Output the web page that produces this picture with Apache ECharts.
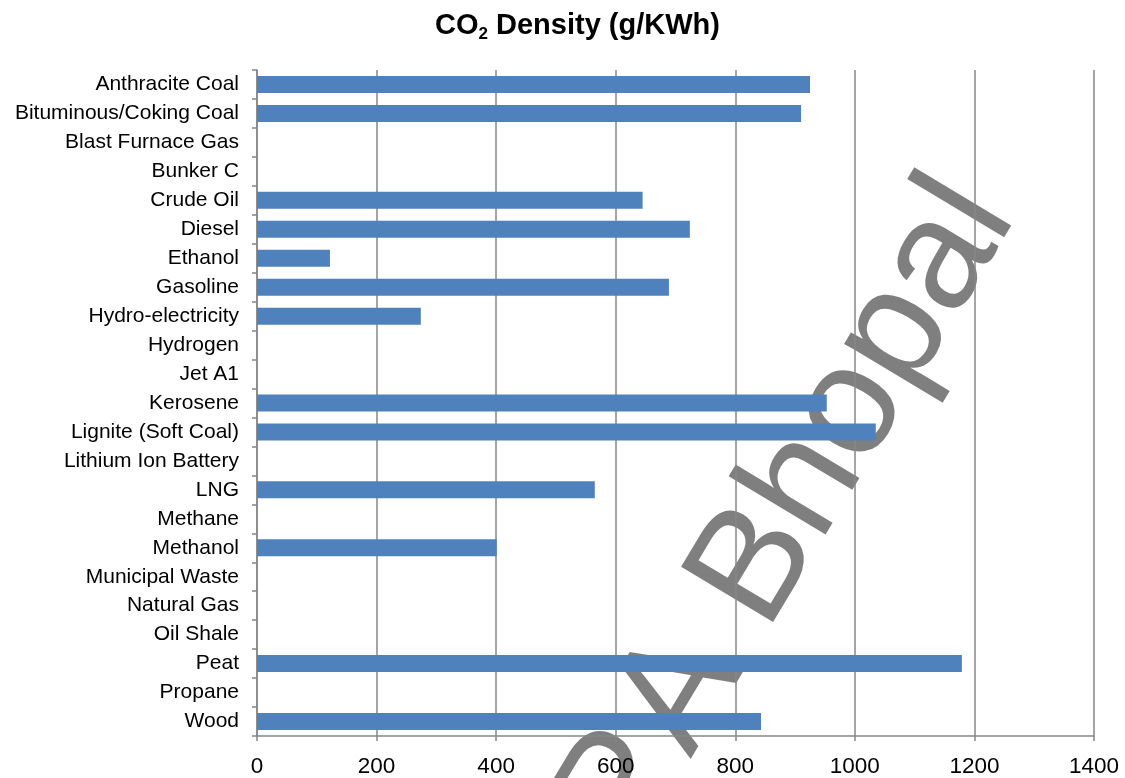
<!DOCTYPE html>
<html>
<head>
<meta charset="utf-8">
<script src="https://cdn.jsdelivr.net/npm/echarts@6/dist/echarts.min.js"></script>
<style>
  html, body { margin: 0; padding: 0; background: #fff; }
  #chart { width: 1125px; height: 778px; }
</style>
</head>
<body>
<div id="chart"></div>
<script>
// Fuel types, listed top to bottom
const fuels = [
  'Anthracite Coal', 'Bituminous/Coking Coal', 'Blast Furnace Gas', 'Bunker C',
  'Crude Oil', 'Diesel', 'Ethanol', 'Gasoline', 'Hydro-electricity', 'Hydrogen',
  'Jet A1', 'Kerosene', 'Lignite (Soft Coal)', 'Lithium Ion Battery', 'LNG',
  'Methane', 'Methanol', 'Municipal Waste', 'Natural Gas', 'Oil Shale', 'Peat',
  'Propane', 'Wood'
];

// CO2 emitted per kWh of energy (g/KWh); null = no value given
const co2Density = [
  925, 910, null, null,
  645, 724, 122, 689, 274, null,
  null, 953, 1035, null, 565,
  null, 401, null, null, null, 1179,
  null, 843
];

// Value axis ticks
const axisMin = 0;
const axisMax = 1400;
const axisStep = 200;

const FONT = '"Liberation Sans", Arial, sans-serif';
const GRID_COLOR = '#878787';

const chart = echarts.init(document.getElementById('chart'), null, { renderer: 'canvas' });

const deg = Math.PI / 180;

chart.setOption({
  backgroundColor: '#ffffff',
  animation: false,
  title: {
    text: '{a|CO}{b|2}{a| Density (g/KWh)}',
    left: 430,
    top: 4,
    textStyle: {
      rich: {
        a: { fontFamily: FONT, fontSize: 29, fontWeight: 'bold', color: '#000', lineHeight: 34 },
        b: { fontFamily: FONT, fontSize: 17, fontWeight: 'bold', color: '#000', lineHeight: 14, verticalAlign: 'bottom' }
      }
    }
  },
  grid: { left: 257, right: 31, top: 70, bottom: 41, containLabel: false },
  xAxis: {
    type: 'value',
    min: axisMin,
    max: axisMax,
    interval: axisStep,
    axisLine: { show: true, lineStyle: { color: GRID_COLOR, width: 1.5 } },
    axisTick: { show: true, length: 5, lineStyle: { color: GRID_COLOR, width: 1.5 } },
    splitLine: { show: true, lineStyle: { color: GRID_COLOR, width: 1.5 } },
    axisLabel: {
      fontFamily: FONT, fontSize: 22.5, color: '#000', margin: 19,
      formatter: v => String(v)
    }
  },
  yAxis: {
    type: 'category',
    data: fuels,
    inverse: true,
    axisLine: { show: true, lineStyle: { color: GRID_COLOR, width: 1.5 } },
    axisTick: { show: true, length: 5, alignWithLabel: false, lineStyle: { color: GRID_COLOR, width: 1.5 } },
    splitLine: { show: false },
    axisLabel: { fontFamily: FONT, fontSize: 21, color: '#000', margin: 18 }
  },
  series: [{
    type: 'bar',
    data: co2Density,
    barWidth: 17,
    itemStyle: { color: '#4F81BD' }
  }],
  graphic: [{
    type: 'group',
    x: 700,
    y: 765,
    rotation: 59 * deg,
    z: 100,
    children: [
      {
        type: 'text',
        x: 0,
        y: -54,
        style: {
          text: 'A Bhopal',
          font: '156px "Liberation Sans", Arial, sans-serif',
          fill: 'rgba(0,0,0,0.5)',
          align: 'left',
          verticalAlign: 'middle'
        }
      },
      {
        type: 'text',
        x: -10,
        y: -54,
        style: {
          text: 'P',
          font: '156px "Liberation Sans", Arial, sans-serif',
          fill: 'rgba(0,0,0,0.5)',
          align: 'right',
          verticalAlign: 'middle'
        }
      }
    ]
  }]
});
</script>
</body>
</html>
